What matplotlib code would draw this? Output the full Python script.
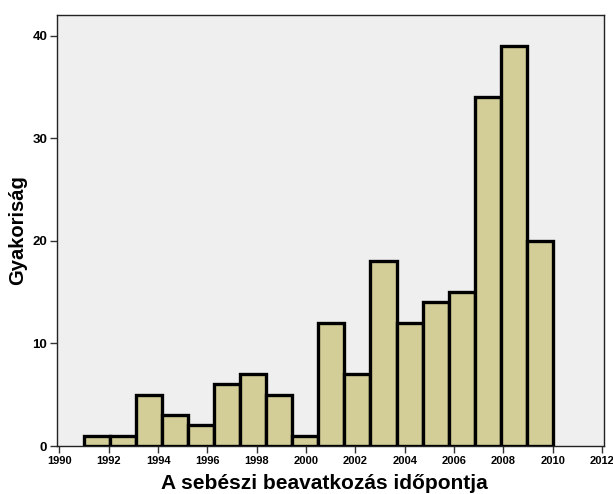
import numpy as np
import matplotlib
matplotlib.use("Agg")
import matplotlib.pyplot as plt

plt.rcParams['font.family'] = ['Liberation Sans', 'DejaVu Sans']

counts = [1, 1, 5, 3, 2, 6, 7, 5, 1, 12, 7, 18, 12, 14, 15, 34, 39, 20]
bin_start = 1991
bin_end = 2010
xticks = list(range(1990, 2013, 2))
yticks = [0, 10, 20, 30, 40]

edges = np.linspace(bin_start, bin_end, len(counts) + 1)
widths = np.diff(edges)

fig = plt.figure(figsize=(6.13, 4.94), dpi=100)
ax = fig.add_axes([57/613, 1-446/494, (604-57)/613, (446-15)/494])
ax.set_facecolor('#efefef')
ax.bar(edges[:-1], counts, width=widths, align='edge', color='#d3ce97',
       edgecolor='black', linewidth=2.4, zorder=3)
ax.set_xlim(1989.9, 2012.08)
ax.set_ylim(0, 42.0)
ax.set_xticks(xticks)
ax.set_xticklabels([str(t) for t in xticks], fontsize=8, fontweight='bold')
ax.set_yticks(yticks)
ax.set_yticklabels([str(t) for t in yticks], fontsize=9.5, fontweight='bold')
ax.tick_params(axis='both', direction='out', length=5, width=1, color='#333333', pad=2)
for s in ax.spines.values():
    s.set_color('#222222')
    s.set_linewidth(1)
ax.set_xlabel('A sebészi beavatkozás időpontja', fontsize=15, fontweight='bold')
ax.xaxis.set_label_coords(0.489, -0.099, transform=ax.transAxes)
ax.xaxis.label.set_verticalalignment('baseline')
ax.set_ylabel('Gyakoriság', fontsize=14.5, fontweight='bold', labelpad=4)
fig.savefig('out.png', dpi=100)
